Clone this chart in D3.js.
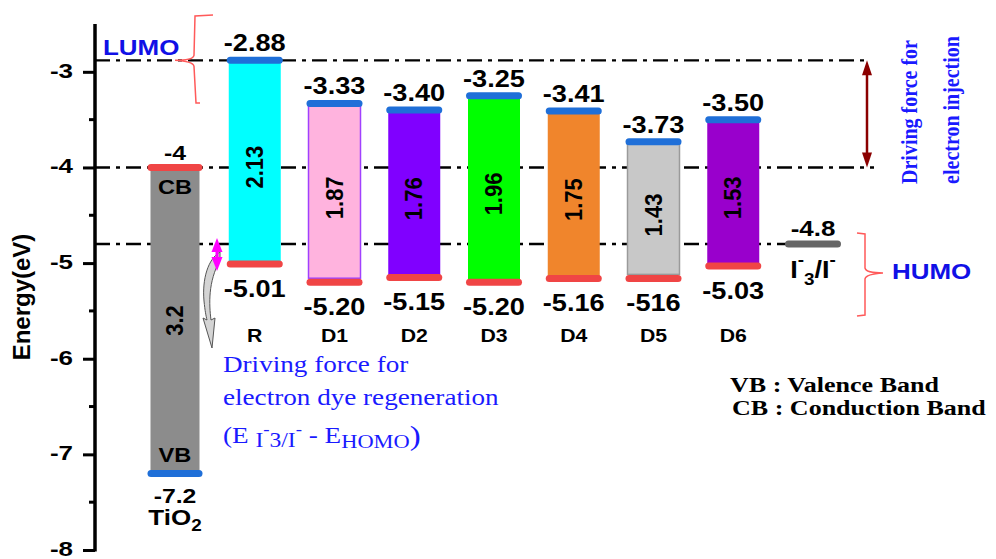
<!DOCTYPE html>
<html>
<head>
<meta charset="utf-8">
<script src="https://cdn.jsdelivr.net/npm/d3@7"></script>
<style>
  html, body { margin: 0; padding: 0; background: #fff; }
  svg { display: block; }
</style>
</head>
<body>
<div id="chart"></div>
<script>
// ---------------- data ----------------
const dyes = ["R", "D1", "D2", "D3", "D4", "D5", "D6"];
const lumo = [-2.88, -3.33, -3.40, -3.25, -3.41, -3.73, -3.50];
const homo = [-5.01, -5.20, -5.15, -5.20, -5.16, -5.16, -5.03];
const lumoLabels = ["-2.88", "-3.33", "-3.40", "-3.25", "-3.41", "-3.73", "-3.50"];
const homoLabels = ["-5.01", "-5.20", "-5.15", "-5.20", "-5.16", "-516", "-5.03"];
const gapLabels = ["2.13", "1.87", "1.76", "1.96", "1.75", "1.43", "1.53"];
const dyeColors = ["#00ffff", "#ffb3de", "#8000ff", "#00ff00", "#f0852c", "#c8c8c8", "#9900cc"];
const dyeStrokes = ["none", "#a040ff", "none", "none", "none", "#9a9a9a", "none"];
const tio2CB = -4;
const tio2VB = -7.2;
const tio2Gap = "3.2";
const redox = -4.8;
const yTicks = [-8, -7, -6, -5, -4, -3];
const yMinorTicks = [-7.5, -6.5, -5.5, -4.5, -3.5];
const categories = ["TiO2", ...dyes, "I3"];

// ---------------- setup ----------------
const W = 996, H = 559;
const S = 1.18; // horizontal text stretch of the original
const SANS = "Arial, 'Liberation Sans', sans-serif";
const SERIF = "'Times New Roman', 'Liberation Serif', serif";
const BLUE_CAP = "#1f6fd8", RED_CAP = "#f04545";

const svg = d3.select("#chart").append("svg").attr("width", W).attr("height", H);

const y = d3.scaleLinear().domain([-8, -2.5]).range([550, 24]);
const x = d3.scalePoint().domain(categories).range([175, 813]);
const axisX = 95;

function txt(parent, px, py, str, o = {}) {
  const g = parent.append("g")
    .attr("transform", `translate(${px},${py}) rotate(${o.rotate || 0}) scale(${o.sx ?? S},${o.sy ?? 1})`);
  return g.append("text")
    .attr("text-anchor", o.anchor || "middle")
    .attr("font-family", o.family || SANS)
    .attr("font-weight", o.weight || "bold")
    .attr("font-size", o.size || 20)
    .attr("fill", o.fill || "#000")
    .text(str);
}

const dashes = "15,6,4,6";

// ---------------- reference dash-dot lines ----------------
const refLines = svg.append("g");
refLines.append("line").attr("x1", axisX).attr("x2", 870)
  .attr("y1", y(lumo[0])).attr("y2", y(lumo[0]))
  .attr("stroke", "#000").attr("stroke-width", 2.4).attr("stroke-dasharray", dashes);
refLines.append("line").attr("x1", axisX).attr("x2", 874)
  .attr("y1", y(tio2CB)).attr("y2", y(tio2CB))
  .attr("stroke", "#000").attr("stroke-width", 2.4).attr("stroke-dasharray", dashes);
refLines.append("line").attr("x1", axisX).attr("x2", x("I3") - 26)
  .attr("y1", y(redox)).attr("y2", y(redox))
  .attr("stroke", "#000").attr("stroke-width", 2.4).attr("stroke-dasharray", dashes);

// ---------------- TiO2 ----------------
const tx = x("TiO2");
svg.append("rect").attr("x", tx - 24.5).attr("width", 49)
  .attr("y", y(tio2CB)).attr("height", y(tio2VB) - y(tio2CB)).attr("fill", "#8c8c8c");
svg.append("rect").attr("x", tx - 27.5).attr("width", 55).attr("y", y(tio2CB) - 3.5).attr("height", 7)
  .attr("rx", 3.5).attr("fill", RED_CAP);
svg.append("rect").attr("x", tx - 27.5).attr("width", 55).attr("y", y(tio2VB) - 3.5).attr("height", 7)
  .attr("rx", 3.5).attr("fill", BLUE_CAP);
txt(svg, tx, y(tio2CB) - 7, String(tio2CB), { size: 21 });
txt(svg, tx, y(tio2CB) + 27, "CB", { size: 20 });
txt(svg, tx, y(tio2VB) - 11, "VB", { size: 20 });
txt(svg, tx, y(tio2VB) + 30, String(tio2VB), { size: 21 });
const tio = txt(svg, tx, y(tio2VB) + 52, "TiO", { size: 22 });
tio.append("tspan").attr("font-size", 16).attr("dy", 6).text("2");
txt(svg, tx + 8, (y(tio2CB) + y(tio2VB)) / 2, tio2Gap, { size: 22, rotate: -90, sx: 1, sy: 1.1 });

// ---------------- dye bars ----------------
dyes.forEach((d, i) => {
  const cx = x(d);
  const yt = y(lumo[i]), yb = y(homo[i]);
  svg.append("rect").attr("x", cx - 26).attr("width", 52)
    .attr("y", yt).attr("height", yb - yt - (dyeStrokes[i] !== "none" ? 4 : 0))
    .attr("fill", dyeColors[i])
    .attr("stroke", dyeStrokes[i]).attr("stroke-width", 1.5);
  svg.append("rect").attr("x", cx - 28).attr("width", 56).attr("y", yt - 3.5).attr("height", 7)
    .attr("rx", 3.5).attr("fill", BLUE_CAP);
  svg.append("rect").attr("x", cx - 28).attr("width", 56).attr("y", yb - 3.5).attr("height", 7)
    .attr("rx", 3.5).attr("fill", RED_CAP);
  txt(svg, cx, yt - 9, lumoLabels[i], { size: 23 });
  txt(svg, cx, yb + 33, homoLabels[i], { size: 23 });
  txt(svg, cx, 342, d, { size: 18 });
  txt(svg, cx + 8, (yt + yb) / 2 + 5, gapLabels[i], { size: 22, rotate: -90, sx: 1, sy: 1.1 });
});

// ---------------- redox couple ----------------
const ix = x("I3");
svg.append("rect").attr("x", ix - 28).attr("width", 56).attr("y", y(redox) - 3.5).attr("height", 7)
  .attr("rx", 3.5).attr("fill", "#666");
txt(svg, ix, y(redox) - 8, String(redox), { size: 22 });
const red = txt(svg, ix, y(redox) + 34, "I", { size: 23 });
red.append("tspan").attr("font-size", 16).attr("dy", -13).text("-");
red.append("tspan").attr("font-size", 16).attr("dy", 20).text("3");
red.append("tspan").attr("font-size", 23).attr("dy", -7).text("/I");
red.append("tspan").attr("font-size", 16).attr("dy", -13).text("-");

// ---------------- axis ----------------
const axis = d3.axisLeft(y).tickValues(yTicks).tickSize(12).tickPadding(4).tickFormat(d => d);
const ag = svg.append("g").attr("transform", `translate(${axisX},0)`).call(axis);
ag.select(".domain").remove();
ag.selectAll(".tick line").attr("stroke", "#000").attr("stroke-width", 3);
ag.selectAll(".tick text").remove();
yTicks.forEach(t => txt(svg, 73, y(t) + 6, String(t), { size: 20, anchor: "end", sx: 1.3 }));
svg.append("g").attr("transform", `translate(${axisX},0)`)
  .selectAll("line").data(yMinorTicks).join("line")
  .attr("x1", -6).attr("x2", 0).attr("y1", d => y(d)).attr("y2", d => y(d))
  .attr("stroke", "#000").attr("stroke-width", 3);
svg.append("line").attr("x1", axisX).attr("x2", axisX).attr("y1", y(-2.5)).attr("y2", y(-8) + 1.5)
  .attr("stroke", "#000").attr("stroke-width", 3.5);
txt(svg, 30, 297, "Energy(eV)", { size: 24, rotate: -90, sx: 1, sy: 1 });

// ---------------- LUMO annotation ----------------
txt(svg, 103, y(lumo[0]) - 5, "LUMO", { size: 22, anchor: "start", fill: "#1010e6" });
svg.append("path")
  .attr("d", `M213,15 L195,16 L194,${y(lumo[0]) - 5} Q193,${y(lumo[0])} 175,${y(lumo[0])} Q193,${y(lumo[0]) + 1} 194,${y(lumo[0]) + 6} L196,103 L200,103`)
  .attr("fill", "none").attr("stroke", "#ff5a5a").attr("stroke-width", 1.5);

// ---------------- HUMO annotation ----------------
svg.append("path")
  .attr("d", "M857,233 L865,234 L865,268 Q866,273 883,273 Q866,274 865,279 L865,315 L857,316")
  .attr("fill", "none").attr("stroke", "#ff5a5a").attr("stroke-width", 1.5);
txt(svg, 892, 279, "HUMO", { size: 22, anchor: "start", fill: "#1010e6" });

// ---------------- injection arrow ----------------
const ay1 = y(lumo[0]), ay2 = y(tio2CB), arx = 867;
svg.append("line").attr("x1", arx).attr("x2", arx).attr("y1", ay1 + 12).attr("y2", ay2 - 12)
  .attr("stroke", "#8b0000").attr("stroke-width", 2.5);
svg.append("path").attr("d", `M${arx},${ay1} L${arx - 5},${ay1 + 15} L${arx + 5},${ay1 + 15} Z`).attr("fill", "#8b0000");
svg.append("path").attr("d", `M${arx},${ay2} L${arx - 5},${ay2 - 15} L${arx + 5},${ay2 - 15} Z`).attr("fill", "#8b0000");
txt(svg, 917, 112, "Driving force for", { size: 20, family: SERIF, fill: "#1a1aff", rotate: -90, sx: 1, sy: 1.12 });
txt(svg, 959, 110, "electron injection", { size: 20, family: SERIF, fill: "#1a1aff", rotate: -90, sx: 1, sy: 1.12 });

// ---------------- regeneration arrows ----------------
svg.append("path")
  .attr("d", "M220,252 C208,259 202,279 204,301 C205,311 206,316 207,320 L203,318 L212,348 L215,318 L211,320 C209,304 208,282 220,260 Z")
  .attr("fill", "#d4d4d4").attr("stroke", "#555").attr("stroke-width", 1);
const mx = 217, my1 = y(redox), my2 = y(homo[0]);
svg.append("line").attr("x1", mx).attr("x2", mx).attr("y1", my1 + 4).attr("y2", my2 - 4)
  .attr("stroke", "#ff00ff").attr("stroke-width", 3);
svg.append("path").attr("d", `M${mx},${my1 - 6} L${mx - 5.5},${my1 + 8} L${mx + 5.5},${my1 + 8} Z`).attr("fill", "#ff00ff");
svg.append("path").attr("d", `M${mx},${my2 + 7} L${mx - 5.5},${my2 - 7} L${mx + 5.5},${my2 - 7} Z`).attr("fill", "#ff00ff");

// ---------------- regeneration text ----------------
const BT = "#1a1aff";
txt(svg, 223, 372, "Driving force for", { size: 23, weight: "normal", family: SERIF, fill: BT, anchor: "start" });
txt(svg, 223, 405, "electron dye regeneration", { size: 23, weight: "normal", family: SERIF, fill: BT, anchor: "start" });
const eq = txt(svg, 223, 443, "(E ", { size: 23, weight: "normal", family: SERIF, fill: BT, anchor: "start" });
eq.append("tspan").attr("font-size", 20).attr("dy", 4).text("I");
eq.append("tspan").attr("font-size", 16).attr("dy", -12).text("-");
eq.append("tspan").attr("font-size", 20).attr("dy", 12).text("3/I");
eq.append("tspan").attr("font-size", 16).attr("dy", -12).text("-");
eq.append("tspan").attr("font-size", 23).attr("dy", 8).text(" - E");
eq.append("tspan").attr("font-size", 19).attr("dy", 5).text("HOMO");
eq.append("tspan").attr("font-size", 28).attr("dy", -3).text(")");

// ---------------- legend text ----------------
txt(svg, 730, 392, "VB : Valence Band", { size: 21, family: SERIF, anchor: "start", sx: 1.24 });
txt(svg, 732, 415, "CB : Conduction Band", { size: 21, family: SERIF, anchor: "start", sx: 1.24 });
</script>
</body>
</html>
